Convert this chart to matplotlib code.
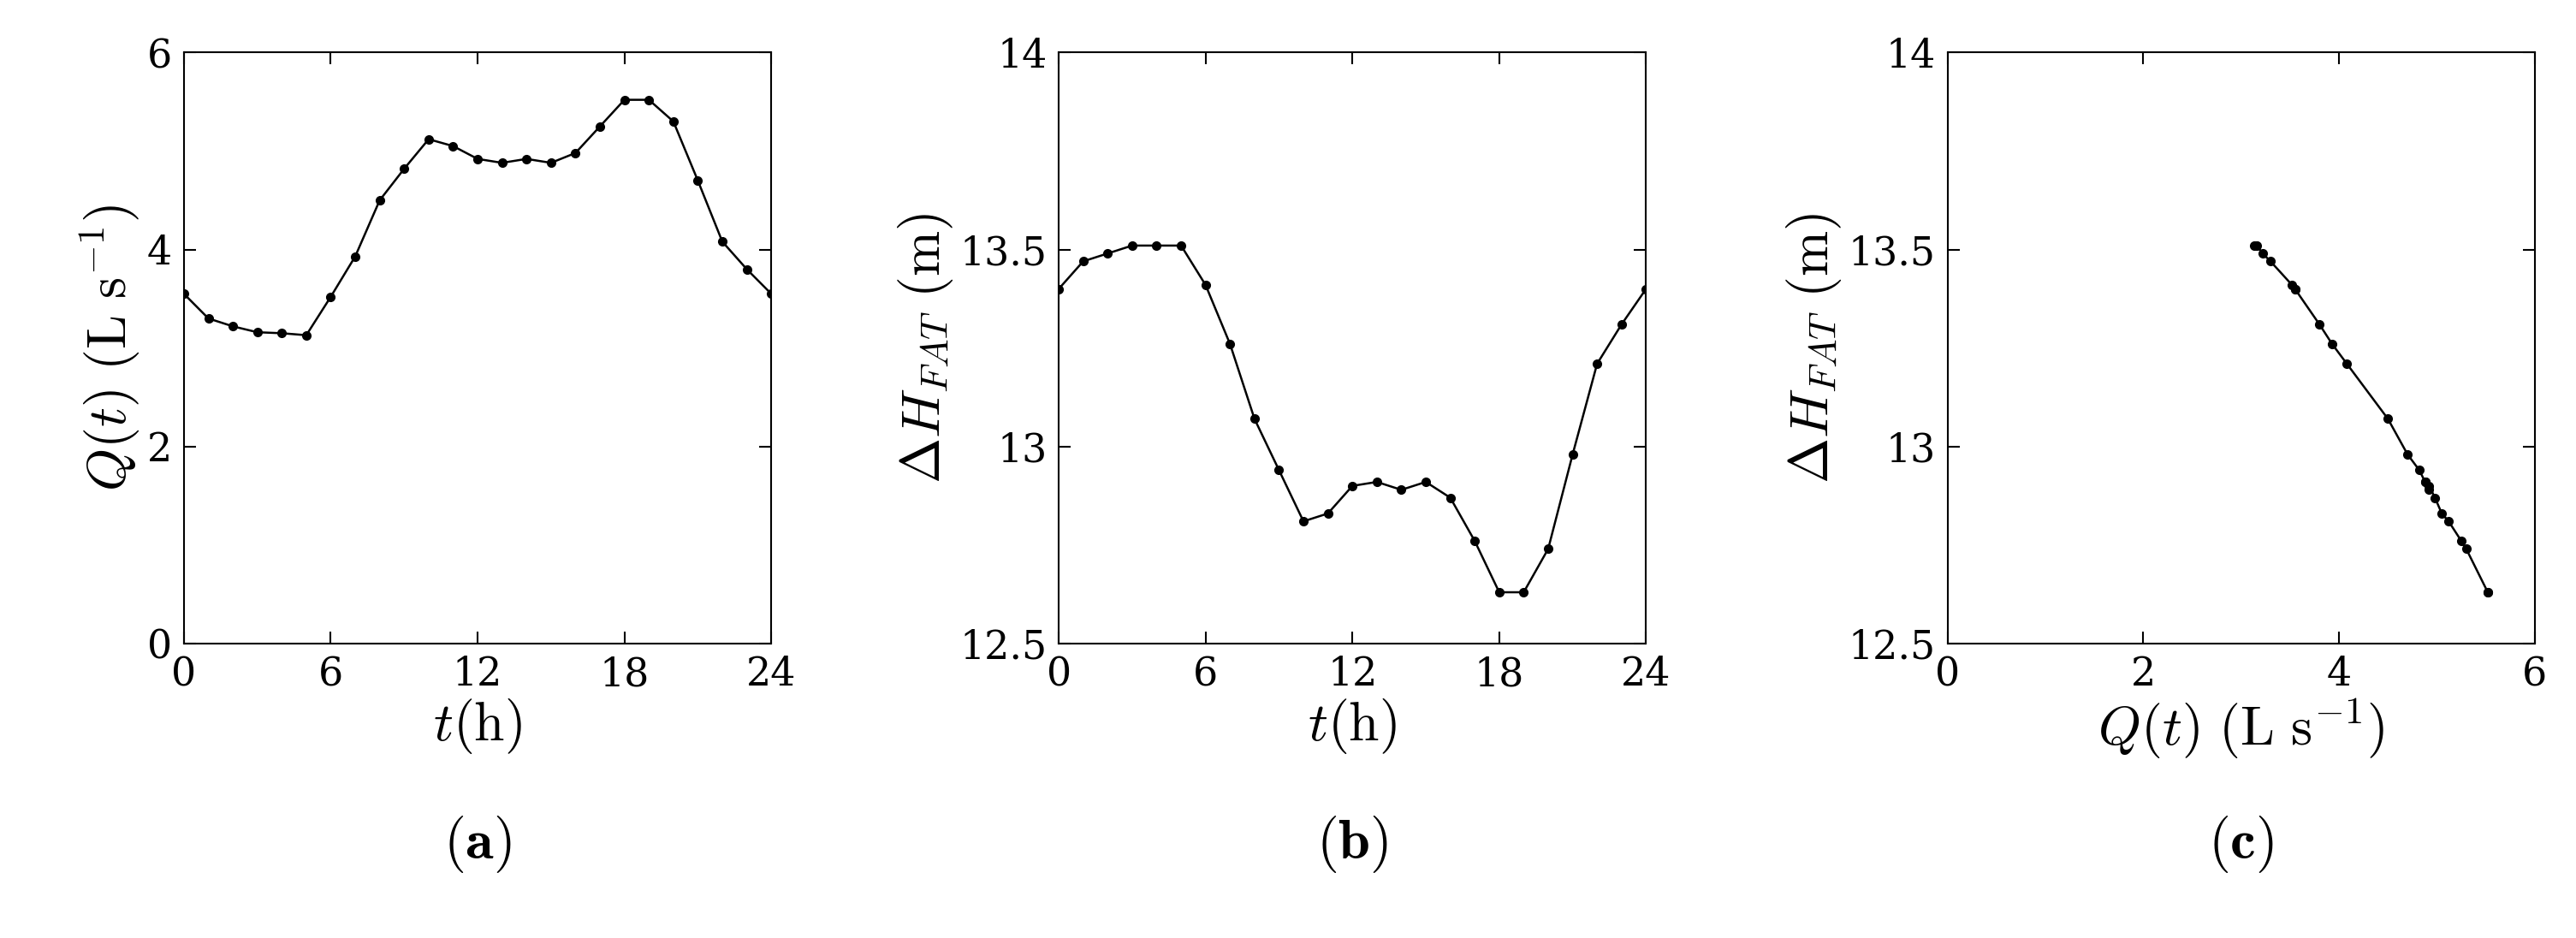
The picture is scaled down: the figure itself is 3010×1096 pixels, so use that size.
import matplotlib
matplotlib.use("Agg")
import matplotlib.pyplot as plt

# hourly data
hours = list(range(25))
flow = [3.55, 3.30, 3.22, 3.16, 3.15, 3.13, 3.52, 3.93, 4.50, 4.82, 5.12, 5.05, 4.92,
        4.88, 4.92, 4.88, 4.98, 5.25, 5.52, 5.52, 5.30, 4.70, 4.08, 3.80, 3.55]
head = [13.40, 13.47, 13.49, 13.51, 13.51, 13.51, 13.41, 13.26, 13.07, 12.94, 12.81, 12.83, 12.90,
        12.91, 12.89, 12.91, 12.87, 12.76, 12.63, 12.63, 12.74, 12.98, 13.21, 13.31, 13.40]
hour_ticks = [0, 6, 12, 18, 24]
panel_tags = ["a", "b", "c"]

plt.rcParams["font.family"] = "DejaVu Serif"
plt.rcParams["mathtext.fontset"] = "cm"

fig = plt.figure(figsize=(30.1, 10.96), dpi=100)
lefts = [0.0714, 0.411, 0.756]
axes = [fig.add_axes([l, 0.314, 0.228, 0.63]) for l in lefts]

q_label = r"$Q(t)\ (\mathrm{L\ s^{-1}})$"
h_label = r"$\Delta H_{FAT}\ (\mathrm{m})$"
t_label = r"$t(\mathrm{h})$"

ax = axes[0]
ax.plot(hours, flow, "k-o", ms=7, lw=1.8)
ax.set_xlim(0, 24); ax.set_ylim(0, 6)
ax.set_xticks(hour_ticks); ax.set_yticks([0, 2, 4, 6])
ax.set_xlabel(t_label); ax.set_ylabel(q_label)

ax = axes[1]
ax.plot(hours, head, "k-o", ms=7, lw=1.8)
ax.set_xlim(0, 24); ax.set_ylim(12.5, 14)
ax.set_xticks(hour_ticks); ax.set_yticks([12.5, 13, 13.5, 14])
ax.set_yticklabels(["12.5", "13", "13.5", "14"])
ax.set_xlabel(t_label); ax.set_ylabel(h_label)

ax = axes[2]
pairs = sorted(zip(flow, head))
ax.plot([p[0] for p in pairs], [p[1] for p in pairs], "k-o", ms=7, lw=1.8)
ax.set_xlim(0, 6); ax.set_ylim(12.5, 14)
ax.set_xticks([0, 2, 4, 6]); ax.set_yticks([12.5, 13, 13.5, 14])
ax.set_yticklabels(["12.5", "13", "13.5", "14"])
ax.set_xlabel(q_label); ax.set_ylabel(h_label)

for ax, tag in zip(axes, panel_tags):
    ax.tick_params(labelsize=33, direction="in", length=10, width=1.5, top=True, right=True, pad=10)
    ax.xaxis.label.set_size(46); ax.yaxis.label.set_size(46)
    ax.xaxis.labelpad = 2
    for s in ax.spines.values():
        s.set_linewidth(1.5)
    ax.text(0.5, -0.34, r"$(\mathbf{%s})$" % tag, transform=ax.transAxes,
            ha="center", va="center", fontsize=48)

fig.savefig("out.png", dpi=100)
